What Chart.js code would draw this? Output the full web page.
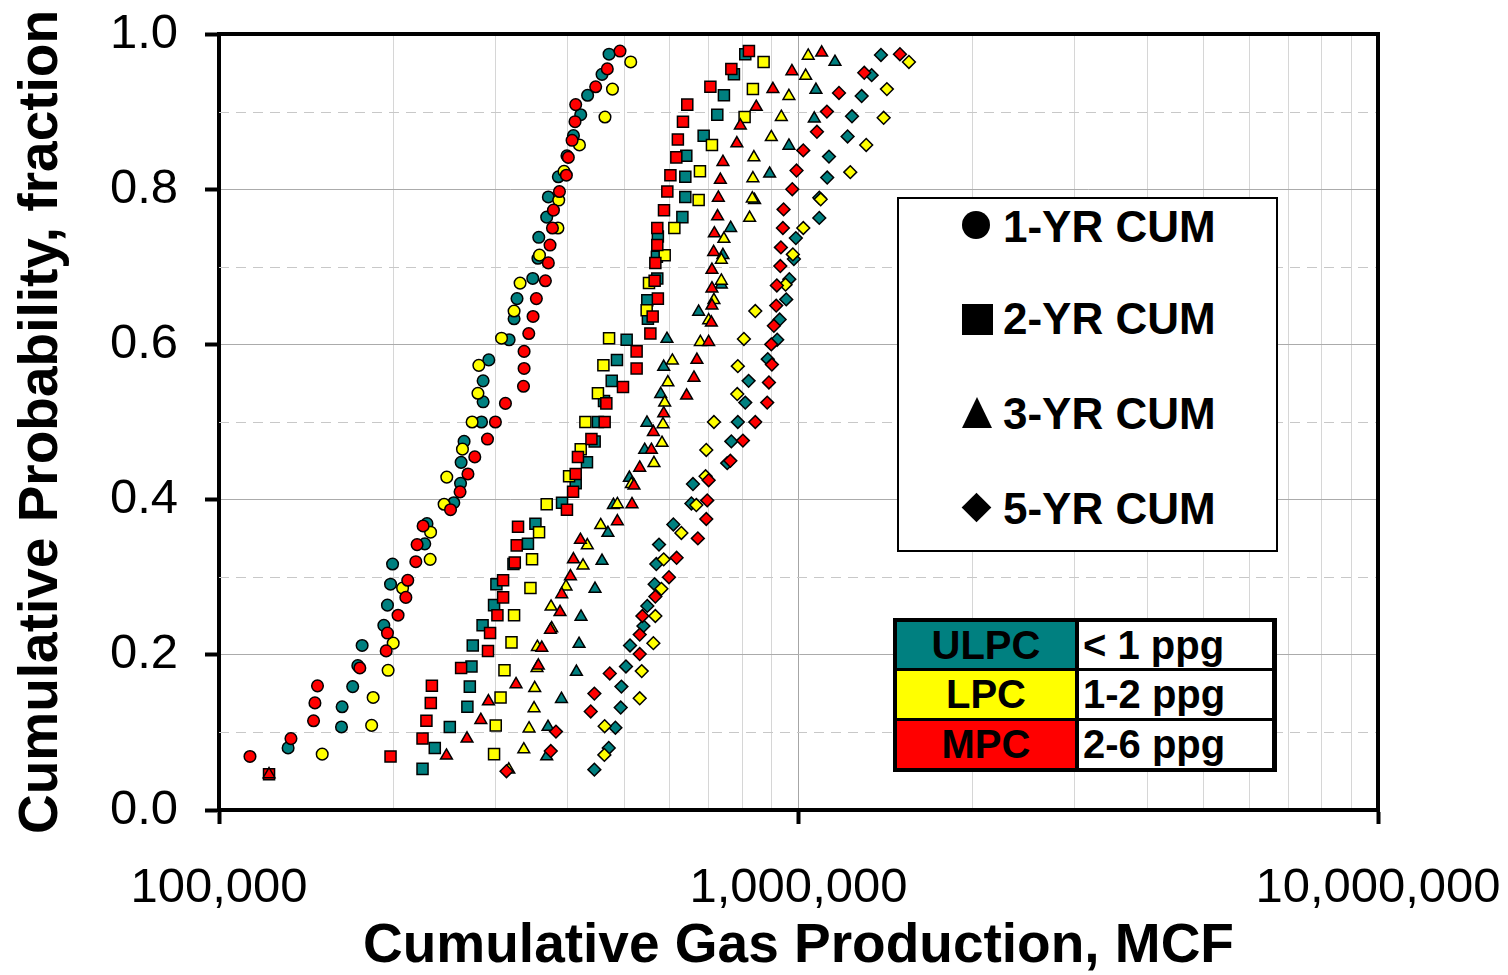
<!DOCTYPE html>
<html>
<head>
<meta charset="utf-8">
<title>Cumulative Probability vs Cumulative Gas Production</title>
<script src="https://cdn.jsdelivr.net/npm/chart.js@4.4.1/dist/chart.umd.min.js"></script>
<style>
body { margin: 0; background: #fff; }
#wrap { position: relative; width: 1508px; height: 975px; font-family: 'Liberation Sans', Arial, sans-serif; font-weight: bold; color: #000; }
#chart { position: absolute; left: 0; top: 0; }
.abs { position: absolute; }
.sym { position: absolute; background: #000; }
.legText { position: absolute; left: 1003px; height: 60px; line-height: 60px; font-size: 44px; white-space: nowrap; }
.cell { position: absolute; height: 47px; line-height: 47px; font-size: 40px; white-space: nowrap; }
</style>
</head>
<body>
<div id="wrap">
	<canvas id="chart" width="1508" height="975"></canvas>

	<!-- marker legend -->
	<div class="abs" style="left:897px; top:197px; width:377px; height:351px; border:2px solid #000; background:#fff;"></div>
	<div class="sym" style="left:962px; top:211px; width:28px; height:28px; border-radius:50%;"></div>
	<div class="legText" style="top:197px;">1-YR CUM</div>
	<div class="sym" style="left:962px; top:304px; width:31px; height:31px;"></div>
	<div class="legText" style="top:289px;">2-YR CUM</div>
	<div class="abs" style="left:962px; top:397px; width:0; height:0; border-left:15px solid transparent; border-right:15px solid transparent; border-bottom:31px solid #000;"></div>
	<div class="legText" style="top:384px;">3-YR CUM</div>
	<div class="sym" style="left:966px; top:497px; width:21px; height:21px; transform:rotate(45deg);"></div>
	<div class="legText" style="top:479px;">5-YR CUM</div>

	<!-- colour table -->
	<div class="abs" style="left:893px; top:618px; width:384px; height:154px; background:#000;"></div>
	<div class="cell" style="left:897px; top:622px; width:178px; height:46px; line-height:46px; background:#008080; text-align:center;">ULPC</div>
	<div class="cell" style="left:1079px; top:622px; width:189px; height:46px; line-height:46px; background:#fff; padding-left:4px;">&lt; 1 ppg</div>
	<div class="cell" style="left:897px; top:671px; width:178px; background:#FFFF00; text-align:center;">LPC</div>
	<div class="cell" style="left:1079px; top:671px; width:189px; background:#fff; padding-left:4px;">1-2 ppg</div>
	<div class="cell" style="left:897px; top:721px; width:178px; background:#FF0000; text-align:center;">MPC</div>
	<div class="cell" style="left:1079px; top:721px; width:189px; background:#fff; padding-left:4px;">2-6 ppg</div>
</div>

<script>
//Cumulative gas production (MCF) and cumulative probability for each group

//1-YR CUM (circles)
var yr1UlpcX = [131600, 162700, 163100, 170100, 173600, 176600, 192500, 195300, 197700, 199300, 226500, 228500, 254200, 261100, 261700, 264800, 283800, 285600, 285600, 292100, 316700, 323000, 326800, 347900, 355100, 356300, 367700, 370100, 385100, 398500, 408900, 420900, 432600, 458100, 471100];
var yr1UlpcP = [0.080, 0.107, 0.133, 0.159, 0.186, 0.212, 0.238, 0.264, 0.291, 0.317, 0.343, 0.369, 0.396, 0.421, 0.448, 0.475, 0.500, 0.526, 0.553, 0.580, 0.606, 0.633, 0.659, 0.685, 0.711, 0.738, 0.764, 0.790, 0.816, 0.843, 0.869, 0.896, 0.921, 0.948, 0.974];

var yr1LpcX = [150700, 183400, 184500, 195800, 199800, 207400, 231400, 231800, 244600, 247200, 263100, 273400, 279800, 280800, 307300, 323000, 330800, 357300, 384500, 385700, 393900, 418800, 463500, 477500, 513400];
var yr1LpcP = [0.072, 0.109, 0.145, 0.180, 0.215, 0.286, 0.323, 0.358, 0.394, 0.429, 0.465, 0.500, 0.537, 0.573, 0.608, 0.643, 0.679, 0.715, 0.750, 0.786, 0.823, 0.857, 0.893, 0.929, 0.964];

var yr1MpcX = [113100, 133100, 145600, 146400, 147900, 175000, 194300, 195300, 203700, 210100, 211700, 218600, 219700, 225000, 250900, 260600, 268900, 276300, 290600, 299900, 312100, 335300, 336100, 336100, 342400, 348300, 352900, 365800, 370100, 372600, 376200, 377700, 386800, 397600, 400700, 406700, 411500, 412600, 446700, 467800, 492000];
var yr1MpcP = [0.069, 0.092, 0.115, 0.138, 0.160, 0.183, 0.205, 0.228, 0.251, 0.274, 0.296, 0.320, 0.342, 0.366, 0.387, 0.410, 0.433, 0.455, 0.478, 0.500, 0.524, 0.546, 0.569, 0.591, 0.614, 0.636, 0.659, 0.682, 0.705, 0.728, 0.750, 0.773, 0.797, 0.818, 0.841, 0.863, 0.887, 0.909, 0.932, 0.955, 0.978];

//2-YR CUM (squares)
var yr2UlpcX = [224500, 235700, 250200, 268300, 270900, 272700, 274100, 285000, 298300, 301100, 322200, 341300, 351600, 390800, 412600, 431500, 444900, 450700, 461700, 476100, 486100, 505200, 549700, 548400, 570600, 569700, 571900, 630400, 637800, 637800, 640300, 686000, 724200, 743500, 773700, 809400];
var yr2UlpcP = [0.053, 0.080, 0.107, 0.133, 0.159, 0.185, 0.212, 0.238, 0.264, 0.291, 0.317, 0.343, 0.369, 0.396, 0.421, 0.448, 0.475, 0.500, 0.527, 0.553, 0.580, 0.606, 0.633, 0.657, 0.685, 0.713, 0.739, 0.764, 0.790, 0.816, 0.843, 0.869, 0.896, 0.921, 0.948, 0.974];

var yr2LpcX = [298300, 300300, 306100, 310900, 319700, 323000, 344700, 346900, 356700, 367700, 401900, 420900, 428800, 450700, 460600, 471100, 547000, 552100, 587600, 610600, 672500, 676000, 709000, 807200, 834300, 870500];
var yr2LpcP = [0.072, 0.109, 0.145, 0.180, 0.216, 0.251, 0.286, 0.323, 0.358, 0.394, 0.430, 0.465, 0.500, 0.537, 0.573, 0.608, 0.644, 0.679, 0.715, 0.750, 0.786, 0.823, 0.857, 0.893, 0.929, 0.964];

var yr2MpcX = [122000, 197700, 224500, 228000, 232000, 233000, 261700, 291200, 293600, 302300, 309200, 309200, 323900, 326400, 328100, 398500, 408300, 412600, 416300, 439200, 462900, 466000, 497900, 525600, 525600, 555100, 560200, 571900, 564600, 566200, 570600, 570600, 586000, 593800, 601100, 615400, 619200, 631900, 642800, 704600, 765800, 821200];
var yr2MpcP = [0.046, 0.069, 0.092, 0.115, 0.138, 0.160, 0.183, 0.205, 0.228, 0.251, 0.274, 0.296, 0.319, 0.341, 0.365, 0.387, 0.410, 0.433, 0.455, 0.478, 0.500, 0.524, 0.545, 0.569, 0.591, 0.614, 0.636, 0.659, 0.682, 0.705, 0.728, 0.750, 0.773, 0.797, 0.818, 0.841, 0.864, 0.887, 0.909, 0.932, 0.955, 0.978];

//3-YR CUM (triangles)
var yr3UlpcX = [367700, 369600, 389900, 413800, 418100, 421400, 445500, 458100, 468900, 479300, 510700, 542700, 547600, 578400, 585300, 592900, 672500, 736000, 740600, 763700, 839900, 891600, 962600, 1064700, 1071800, 1155900];
var yr3UlpcP = [0.069, 0.107, 0.143, 0.178, 0.214, 0.249, 0.285, 0.321, 0.357, 0.393, 0.428, 0.464, 0.499, 0.536, 0.571, 0.607, 0.642, 0.677, 0.715, 0.750, 0.786, 0.820, 0.856, 0.891, 0.928, 0.964];

var yr3LpcX = [316300, 335700, 342800, 349700, 350600, 353800, 354300, 375100, 374100, 397000, 424800, 432100, 455700, 486900, 514800, 563100, 581400, 583700, 587600, 595100, 605800, 677100, 699800, 714600, 736000, 736000, 743500, 823500, 832300, 834300, 837600, 897600, 934000, 962600, 1028900, 1039300];
var yr3LpcP = [0.052, 0.078, 0.105, 0.131, 0.157, 0.183, 0.210, 0.234, 0.262, 0.288, 0.315, 0.341, 0.367, 0.394, 0.420, 0.447, 0.473, 0.497, 0.525, 0.551, 0.579, 0.603, 0.631, 0.657, 0.682, 0.709, 0.736, 0.763, 0.788, 0.814, 0.841, 0.867, 0.893, 0.920, 0.946, 0.972];

var yr3MpcX = [122000, 246900, 267900, 283000, 291700, 325500, 355700, 360600, 373200, 387700, 390300, 404100, 408900, 420400, 486900, 516000, 520100, 532100, 557400, 561800, 585300, 641100, 660100, 667900, 699800, 707400, 709000, 709000, 709000, 713800, 715800, 725000, 727200, 733100, 740600, 782800, 793700, 845500, 903300, 974100, 1096500];
var yr3MpcP = [0.046, 0.070, 0.092, 0.116, 0.140, 0.162, 0.186, 0.209, 0.232, 0.255, 0.278, 0.301, 0.323, 0.348, 0.372, 0.394, 0.418, 0.441, 0.464, 0.487, 0.511, 0.534, 0.557, 0.580, 0.603, 0.628, 0.650, 0.672, 0.696, 0.719, 0.743, 0.765, 0.789, 0.812, 0.835, 0.859, 0.882, 0.906, 0.929, 0.952, 0.976];

//5-YR CUM (diamonds)
var yr5UlpcX = [444400, 470500, 483100, 493400, 494800, 503800, 512000, 540000, 548400, 564600, 568400, 574500, 608200, 653400, 657500, 753400, 765800, 785800, 809400, 820200, 885100, 918900, 927700, 952500, 964100, 981800, 989500, 1086100, 1086100, 1120800, 1128800, 1215400, 1236800, 1285300, 1337400, 1387700];
var yr5UlpcP = [0.052, 0.080, 0.106, 0.132, 0.159, 0.185, 0.212, 0.237, 0.263, 0.291, 0.317, 0.342, 0.368, 0.395, 0.420, 0.447, 0.475, 0.500, 0.525, 0.553, 0.581, 0.606, 0.632, 0.658, 0.684, 0.710, 0.737, 0.763, 0.789, 0.815, 0.842, 0.868, 0.894, 0.920, 0.947, 0.973];

var yr5LpcX = [462400, 462900, 532100, 536400, 561800, 566200, 580000, 585300, 627900, 666300, 691300, 693200, 714600, 784000, 785800, 805000, 842200, 949900, 977900, 1019200, 1092200, 1228500, 1308700, 1402600, 1420800, 1550800];
var yr5LpcP = [0.071, 0.108, 0.144, 0.179, 0.215, 0.250, 0.285, 0.323, 0.357, 0.393, 0.430, 0.464, 0.500, 0.536, 0.572, 0.607, 0.643, 0.677, 0.716, 0.750, 0.787, 0.822, 0.857, 0.892, 0.929, 0.964];

var yr5MpcX = [313400, 373700, 381500, 438000, 444400, 472400, 532100, 532100, 537800, 566200, 597700, 616100, 670400, 693200, 695900, 699800, 762800, 801900, 842200, 883100, 889100, 899700, 897600, 906800, 915300, 917500, 930300, 932500, 939900, 942500, 975600, 992200, 1019200, 1076000, 1119500, 1174500, 1298600, 1496400];
var yr5MpcP = [0.050, 0.076, 0.101, 0.127, 0.150, 0.176, 0.201, 0.226, 0.250, 0.275, 0.300, 0.325, 0.350, 0.375, 0.399, 0.425, 0.450, 0.476, 0.500, 0.525, 0.551, 0.574, 0.600, 0.624, 0.650, 0.676, 0.701, 0.725, 0.750, 0.774, 0.800, 0.824, 0.850, 0.874, 0.900, 0.924, 0.950, 0.974];

//Axis ticks
var xTickValues = [100000, 200000, 300000, 400000, 500000, 600000, 700000, 800000, 900000,
	1000000, 2000000, 3000000, 4000000, 5000000, 6000000, 7000000, 8000000, 9000000, 10000000];
var xLabelValues = [100000, 1000000, 10000000];
var dashedProb = [0.1, 0.3, 0.5, 0.7, 0.9];

var ulpcColor = '#008080';
var lpcColor = '#FFFF00';
var mpcColor = '#FF0000';

Chart.defaults.font.family = "'Liberation Sans', Arial, sans-serif";
Chart.defaults.color = '#000';

function pairUp(xs, ps) {
	return xs.map(function (x, i) { return { x: x, y: ps[i] }; });
}

function series(label, xs, ps, color, shape, radius) {
	return {
		label: label,
		data: pairUp(xs, ps),
		showLine: false,
		pointStyle: shape,
		pointRadius: radius,
		pointHoverRadius: radius,
		pointBackgroundColor: color,
		pointBorderColor: '#000',
		pointBorderWidth: 1.5,
		backgroundColor: color,
		borderColor: '#000'
	};
}

function isLabelTick(v) {
	return xLabelValues.indexOf(v) >= 0;
}

// listed bottom to top
var datasets = [
	series('1-YR CUM ULPC', yr1UlpcX, yr1UlpcP, ulpcColor, 'circle', 5.8),
	series('1-YR CUM LPC', yr1LpcX, yr1LpcP, lpcColor, 'circle', 5.8),
	series('1-YR CUM MPC', yr1MpcX, yr1MpcP, mpcColor, 'circle', 5.8),
	series('2-YR CUM ULPC', yr2UlpcX, yr2UlpcP, ulpcColor, 'rect', 7.8),
	series('2-YR CUM LPC', yr2LpcX, yr2LpcP, lpcColor, 'rect', 7.8),
	series('2-YR CUM MPC', yr2MpcX, yr2MpcP, mpcColor, 'rect', 7.8),
	series('3-YR CUM ULPC', yr3UlpcX, yr3UlpcP, ulpcColor, 'triangle', 6.8),
	series('3-YR CUM LPC', yr3LpcX, yr3LpcP, lpcColor, 'triangle', 6.8),
	series('3-YR CUM MPC', yr3MpcX, yr3MpcP, mpcColor, 'triangle', 6.8),
	series('5-YR CUM ULPC', yr5UlpcX, yr5UlpcP, ulpcColor, 'rectRot', 6.4),
	series('5-YR CUM LPC', yr5LpcX, yr5LpcP, lpcColor, 'rectRot', 6.4),
	series('5-YR CUM MPC', yr5MpcX, yr5MpcP, mpcColor, 'rectRot', 6.4)
];
datasets.forEach(function (d, i) { d.order = datasets.length - i; });

//dashed half-step lines and the top/right frame
var plotExtras = {
	id: 'plotExtras',
	beforeDatasetsDraw: function (chart) {
		var ctx = chart.ctx, area = chart.chartArea, yScale = chart.scales.y;
		ctx.save();
		ctx.strokeStyle = '#c8c8c8';
		ctx.lineWidth = 1;
		ctx.setLineDash([10, 7]);
		dashedProb.forEach(function (p) {
			var py = Math.round(yScale.getPixelForValue(p)) + 0.5;
			ctx.beginPath();
			ctx.moveTo(area.left, py);
			ctx.lineTo(area.right, py);
			ctx.stroke();
		});
		ctx.restore();
	},
	afterDatasetsDraw: function (chart) {
		var ctx = chart.ctx, area = chart.chartArea;
		ctx.save();
		ctx.strokeStyle = '#000';
		ctx.lineWidth = 4;
		ctx.beginPath();
		ctx.moveTo(area.left - 2, area.top);
		ctx.lineTo(area.right, area.top);
		ctx.lineTo(area.right, area.bottom + 2);
		ctx.stroke();
		ctx.restore();
	}
};

var ctx = document.getElementById('chart');
var myChart = new Chart(ctx, {
	type: 'scatter',
	data: { datasets: datasets },
	plugins: [plotExtras],
	options: {
		responsive: false,
		animation: false,
		devicePixelRatio: 1,
		layout: { padding: { top: 34, right: 130, left: 0, bottom: 0 } },
		plugins: {
			legend: { display: false },
			tooltip: { enabled: false }
		},
		scales: {
			x: {
				type: 'logarithmic',
				min: 100000,
				max: 10000000,
				afterBuildTicks: function (scale) {
					scale.ticks = xTickValues.map(function (v) { return { value: v }; });
				},
				afterFit: function (scale) {
					scale.height = 165;
					scale.paddingLeft = 0;
					scale.paddingRight = 0;
				},
				ticks: {
					autoSkip: false,
					maxRotation: 0,
					padding: 35,
					font: { size: 49 },
					color: '#000',
					callback: function (v) {
						return isLabelTick(v) ? v.toLocaleString('en-US') : '';
					}
				},
				grid: {
					color: function (c) {
						return (c.tick && isLabelTick(c.tick.value)) ? '#a6a6a6' : '#d6d6d6';
					},
					lineWidth: 1,
					tickLength: 14,
					tickWidth: 4,
					tickColor: function (c) {
						return (c.tick && isLabelTick(c.tick.value)) ? '#000' : 'rgba(0,0,0,0)';
					}
				},
				border: { color: '#000', width: 4 },
				title: {
					display: true,
					text: 'Cumulative Gas Production, MCF',
					font: { size: 55, weight: 'bold', lineHeight: 1.0 },
					color: '#000',
					padding: { top: 0, bottom: 1 }
				}
			},
			y: {
				min: 0,
				max: 1,
				afterFit: function (scale) {
					scale.width = 219;
					scale.paddingTop = 0;
					scale.paddingBottom = 0;
				},
				ticks: {
					stepSize: 0.2,
					padding: 27,
					font: { size: 49 },
					color: '#000',
					callback: function (v) { return v.toFixed(1); }
				},
				grid: {
					color: '#ababab',
					lineWidth: 1,
					tickLength: 14,
					tickWidth: 4,
					tickColor: '#000'
				},
				border: { color: '#000', width: 4 },
				title: {
					display: true,
					text: 'Cumulative Probability, fraction',
					font: { size: 55, weight: 'bold' },
					color: '#000',
					padding: { top: 9, bottom: 0 }
				}
			}
		}
	}
});
</script>
</body>
</html>
